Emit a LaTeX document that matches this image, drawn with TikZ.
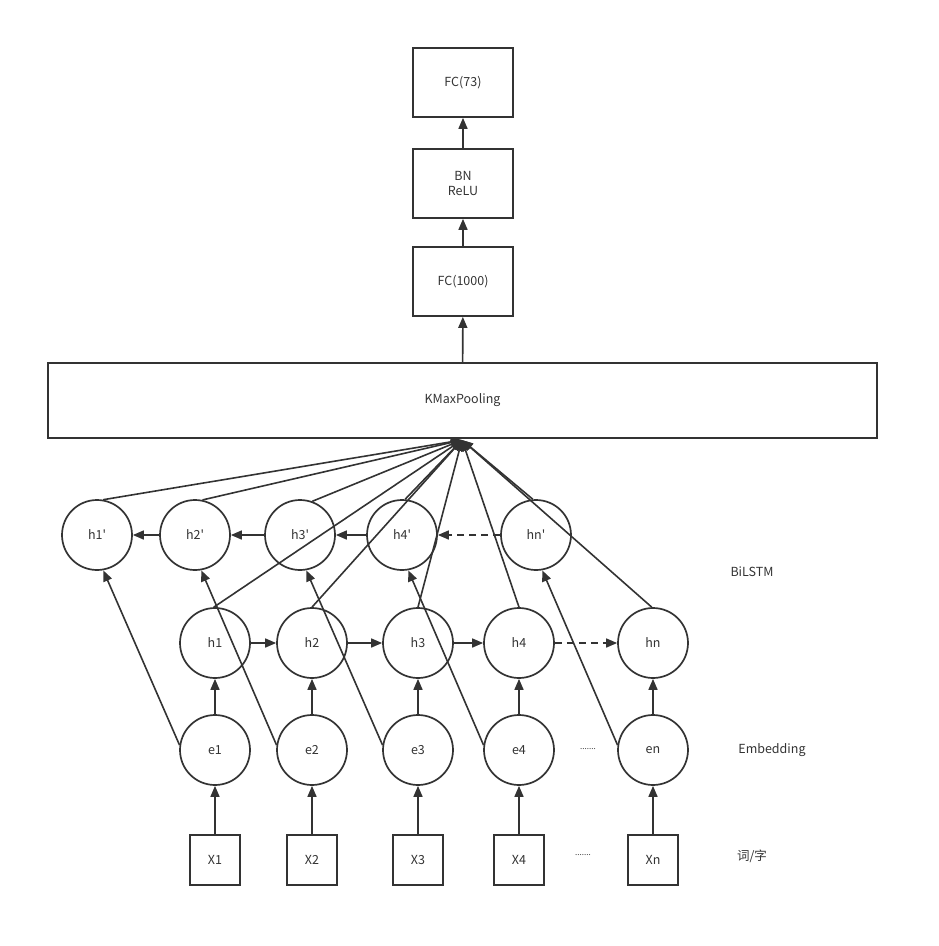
\documentclass[tikz,border=0pt]{standalone}
\usepackage{fontspec}
\setmainfont{Noto Sans CJK SC}
\usetikzlibrary{arrows.meta}
\definecolor{ink}{HTML}{333333}
\begin{document}
\begin{tikzpicture}[x=1pt,y=-1pt,
  every node/.style={font=\fontsize{12.5}{15}\selectfont, text=ink},
  rbox/.style={draw=ink, line width=1.7pt, rectangle, minimum width=100pt, minimum height=69pt, inner sep=0pt, align=center},
  kbox/.style={draw=ink, line width=1.7pt, rectangle, minimum width=829pt, minimum height=75pt, inner sep=0pt},
  xbox/.style={draw=ink, line width=1.7pt, rectangle, minimum width=50pt, minimum height=50pt, inner sep=0pt},
  cell/.style={draw=ink, line width=1.7pt, circle, minimum size=70pt, inner sep=0pt},
  conn/.style={draw=ink, line width=1.6pt, -{Triangle[length=11pt,width=9pt]}},
  dconn/.style={conn, dash pattern=on 7pt off 5pt},
  lab/.style={font=\fontsize{12.5}{15}\selectfont},
  dots/.style={font=\fontsize{8}{10}\selectfont}
]
\useasboundingbox (0,0) rectangle (939,946);
% top stack
\node[rbox] (fc73) at (463,82.5) {FC(73)};
\node[rbox] (bn) at (463,183.5) {BN\\ReLU};
\node[rbox] (fc1000) at (463,281.5) {FC(1000)};
\node[kbox] (km) at (462.5,400.5) {KMaxPooling};
\draw[conn] (bn) -- (fc73);
\draw[conn] (fc1000) -- (bn);
\draw[conn] (km) -- (fc1000);
% backward row
\node[cell] (hp1) at (97,535) {h1\textquotesingle};
\node[cell] (hp2) at (195,535) {h2\textquotesingle};
\node[cell] (hp3) at (300,535) {h3\textquotesingle};
\node[cell] (hp4) at (402,535) {h4\textquotesingle};
\node[cell] (hpn) at (536,535) {hn\textquotesingle};
% forward row
\node[cell] (h1) at (215,643) {h1};
\node[cell] (h2) at (312,643) {h2};
\node[cell] (h3) at (418,643) {h3};
\node[cell] (h4) at (519,643) {h4};
\node[cell] (hn) at (653,643) {hn};
% embedding row
\node[cell] (e1) at (215,750) {e1};
\node[cell] (e2) at (312,750) {e2};
\node[cell] (e3) at (418,750) {e3};
\node[cell] (e4) at (519,750) {e4};
\node[cell] (en) at (653,750) {en};
% inputs
\node[xbox] (x1) at (215,860) {X1};
\node[xbox] (x2) at (312,860) {X2};
\node[xbox] (x3) at (418,860) {X3};
\node[xbox] (x4) at (519,860) {X4};
\node[xbox] (xn) at (653,860) {Xn};
% dots and labels
\node[dots] (d1) at (588,749) {.......};
\node[dots] (d2) at (583,855) {.......};
\node[lab] (lb1) at (752,572) {BiLSTM};
\node[lab] (lb2) at (772,750) {Embedding};
\node[lab] (lb3) at (752,856) {词/字};
% vertical arrows
\foreach \i in {1,2,3,4,n} {
  \draw[conn] (x\i) -- (e\i);
  \draw[conn] (e\i) -- (h\i);
}
% forward chain
\draw[conn] (h1) -- (h2);
\draw[conn] (h2) -- (h3);
\draw[conn] (h3) -- (h4);
\draw[dconn] (h4) -- (hn);
% backward chain
\draw[dconn] (hpn) -- (hp4);
\draw[conn] (hp4) -- (hp3);
\draw[conn] (hp3) -- (hp2);
\draw[conn] (hp2) -- (hp1);
% embedding to backward
\draw[conn] (e1.172) -- (hp1.-80);
\draw[conn] (e2.172) -- (hp2.-80);
\draw[conn] (e3.172) -- (hp3.-80);
\draw[conn] (e4.172) -- (hp4.-80);
\draw[conn] (en.172) -- (hpn.-80);
% to KMaxPooling
\coordinate (cv) at (462,440);
\draw[conn] (hp1.80) -- (cv);
\draw[conn] (hp2.78) -- (cv);
\draw[conn] (hp3.70) -- (cv);
\draw[conn] (hp4.85) -- (cv);
\draw[conn] (hpn.95) -- (cv);
\draw[conn] (h1.92) -- (cv);
\draw[conn] (h2.90) -- (cv);
\draw[conn] (h3.90) -- (cv);
\draw[conn] (h4.90) -- (cv);
\draw[conn] (hn.92) -- (cv);
\end{tikzpicture}
\end{document}
